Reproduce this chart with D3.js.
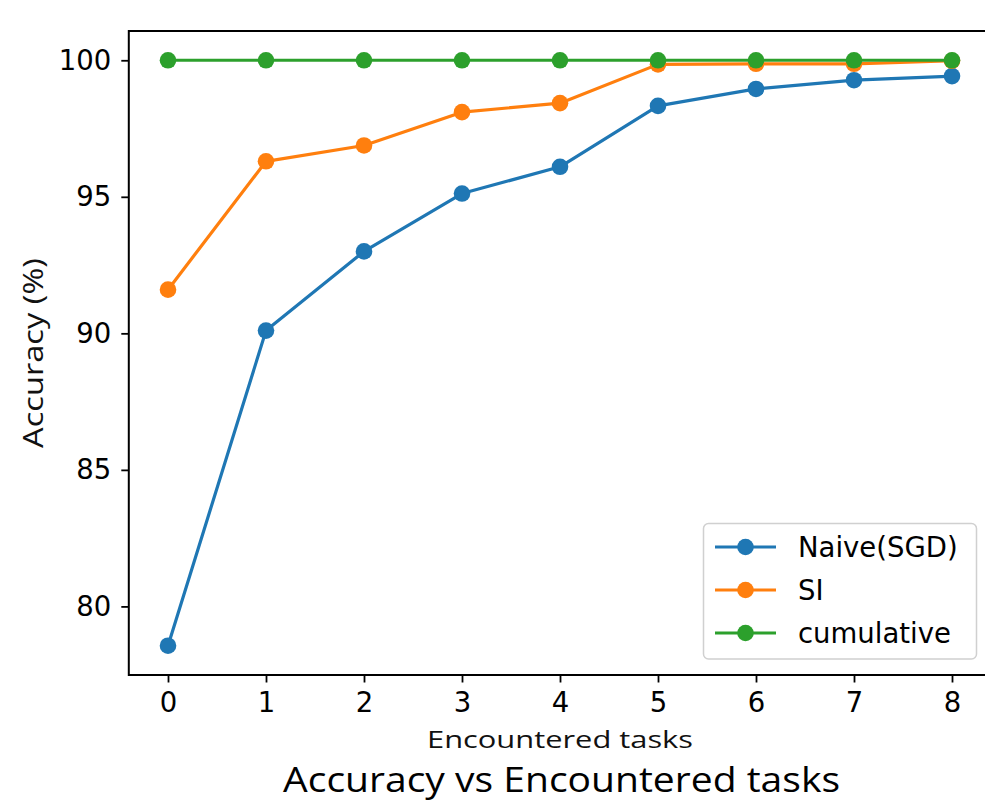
<!DOCTYPE html>
<html>
<head>
<meta charset="utf-8">
<script src="https://cdn.jsdelivr.net/npm/d3@7"></script>
<style>
  html, body { margin: 0; padding: 0; background: #fff; }
  svg { display: block; }
</style>
</head>
<body>
<svg id="chart" width="985" height="802"></svg>
<script>
const tasks = [0, 1, 2, 3, 4, 5, 6, 7, 8];
const naiveSGD = [78.56, 90.1, 93.0, 95.12, 96.1, 98.33, 98.95, 99.27, 99.42];
const si = [91.6, 96.3, 96.88, 98.1, 98.43, 99.85, 99.87, 99.87, 99.98];
const cumulative = [100, 100, 100, 100, 100, 100, 100, 100, 100];
const seriesNames = ["Naive(SGD)", "SI", "cumulative"];
const seriesColors = ["#1f77b4", "#ff7f0e", "#2ca02c"];
const yTicks = [80, 85, 90, 95, 100];
const xTicks = [0, 1, 2, 3, 4, 5, 6, 7, 8];
const titleText = "Accuracy vs Encountered tasks";
const xLabelText = "Encountered tasks";
const yLabelText = "Accuracy (%)";

const svg = d3.select("#chart");
const plot = { left: 128.8, right: 991.2, top: 31, bottom: 675 };

const allVals = naiveSGD.concat(si, cumulative);
const yMin = d3.min(allVals), yMax = d3.max(allVals);
const yPad = (yMax - yMin) * 0.05;
const x = d3.scaleLinear().domain([-0.4, 8.4]).range([plot.left, plot.right]);
const y = d3.scaleLinear().domain([yMin - yPad, yMax + yPad]).range([plot.bottom, plot.top]);

const tickFont = "DejaVu Sans, sans-serif";
const labelFont = "'Open Sans', sans-serif";

// Series
const series = [naiveSGD, si, cumulative];
const line = d3.line().x((d, i) => x(tasks[i])).y(d => y(d));
series.forEach((vals, k) => {
  const g = svg.append("g");
  g.append("path").datum(vals)
    .attr("d", line)
    .attr("fill", "none")
    .attr("stroke", seriesColors[k])
    .attr("stroke-width", 3.2)
    .attr("stroke-linejoin", "round")
    .attr("stroke-linecap", "square");
  g.selectAll("circle").data(vals).enter().append("circle")
    .attr("cx", (d, i) => x(tasks[i]))
    .attr("cy", d => y(d))
    .attr("r", 8.3)
    .attr("fill", seriesColors[k]);
});

// Frame (spines)
svg.append("rect")
  .attr("x", plot.left).attr("y", plot.top)
  .attr("width", plot.right - plot.left).attr("height", plot.bottom - plot.top)
  .attr("fill", "none").attr("stroke", "#000").attr("stroke-width", 2);

// X axis
const xAxis = d3.axisBottom(x).tickValues(xTicks).tickSize(7.5).tickPadding(10).tickFormat(d3.format("d"));
const gx = svg.append("g").attr("transform", `translate(0,${plot.bottom})`).call(xAxis);
gx.select(".domain").remove();
gx.selectAll(".tick line").attr("stroke", "#000").attr("stroke-width", 1.8);
gx.selectAll(".tick text").attr("font-family", tickFont).attr("font-size", 27.5).attr("fill", "#000");

// Y axis
const yAxis = d3.axisLeft(y).tickValues(yTicks).tickSize(7.5).tickPadding(10).tickFormat(d3.format("d"));
const gy = svg.append("g").attr("transform", `translate(${plot.left},0)`).call(yAxis);
gy.select(".domain").remove();
gy.selectAll(".tick line").attr("stroke", "#000").attr("stroke-width", 1.8);
gy.selectAll(".tick text").attr("font-family", tickFont).attr("font-size", 27.5).attr("fill", "#000");

// Axis labels
svg.append("text")
  .attr("x", 560).attr("y", 748)
  .attr("text-anchor", "middle")
  .attr("font-family", labelFont).attr("font-size", 24)
  .attr("textLength", 266).attr("lengthAdjust", "spacingAndGlyphs")
  .attr("fill", "#111")
  .text(xLabelText);

svg.append("text")
  .attr("transform", "translate(43,353) rotate(-90)")
  .attr("text-anchor", "middle")
  .attr("font-family", labelFont).attr("font-size", 27)
  .attr("textLength", 190).attr("lengthAdjust", "spacingAndGlyphs")
  .attr("fill", "#111")
  .text(yLabelText);

// Title
svg.append("text")
  .attr("x", 561.5).attr("y", 792)
  .attr("text-anchor", "middle")
  .attr("font-family", labelFont).attr("font-size", 34)
  .attr("textLength", 557).attr("lengthAdjust", "spacingAndGlyphs")
  .attr("fill", "#000")
  .text(titleText);

// Legend
const lg = svg.append("g");
lg.append("rect")
  .attr("x", 703.5).attr("y", 523.5).attr("width", 273).attr("height", 135.5)
  .attr("rx", 5).attr("ry", 5)
  .attr("fill", "#fff").attr("fill-opacity", 0.8)
  .attr("stroke", "#d0d0d0").attr("stroke-width", 1.5);
const rowY = [547, 590, 633];
seriesNames.forEach((name, k) => {
  lg.append("line")
    .attr("x1", 715).attr("x2", 776).attr("y1", rowY[k]).attr("y2", rowY[k])
    .attr("stroke", seriesColors[k]).attr("stroke-width", 3.2);
  lg.append("circle")
    .attr("cx", 745.5).attr("cy", rowY[k]).attr("r", 8.3)
    .attr("fill", seriesColors[k]);
  lg.append("text")
    .attr("x", 798).attr("y", rowY[k] + 10)
    .attr("font-family", tickFont).attr("font-size", 27.5)
    .attr("fill", "#000")
    .text(name);
});
</script>
</body>
</html>
